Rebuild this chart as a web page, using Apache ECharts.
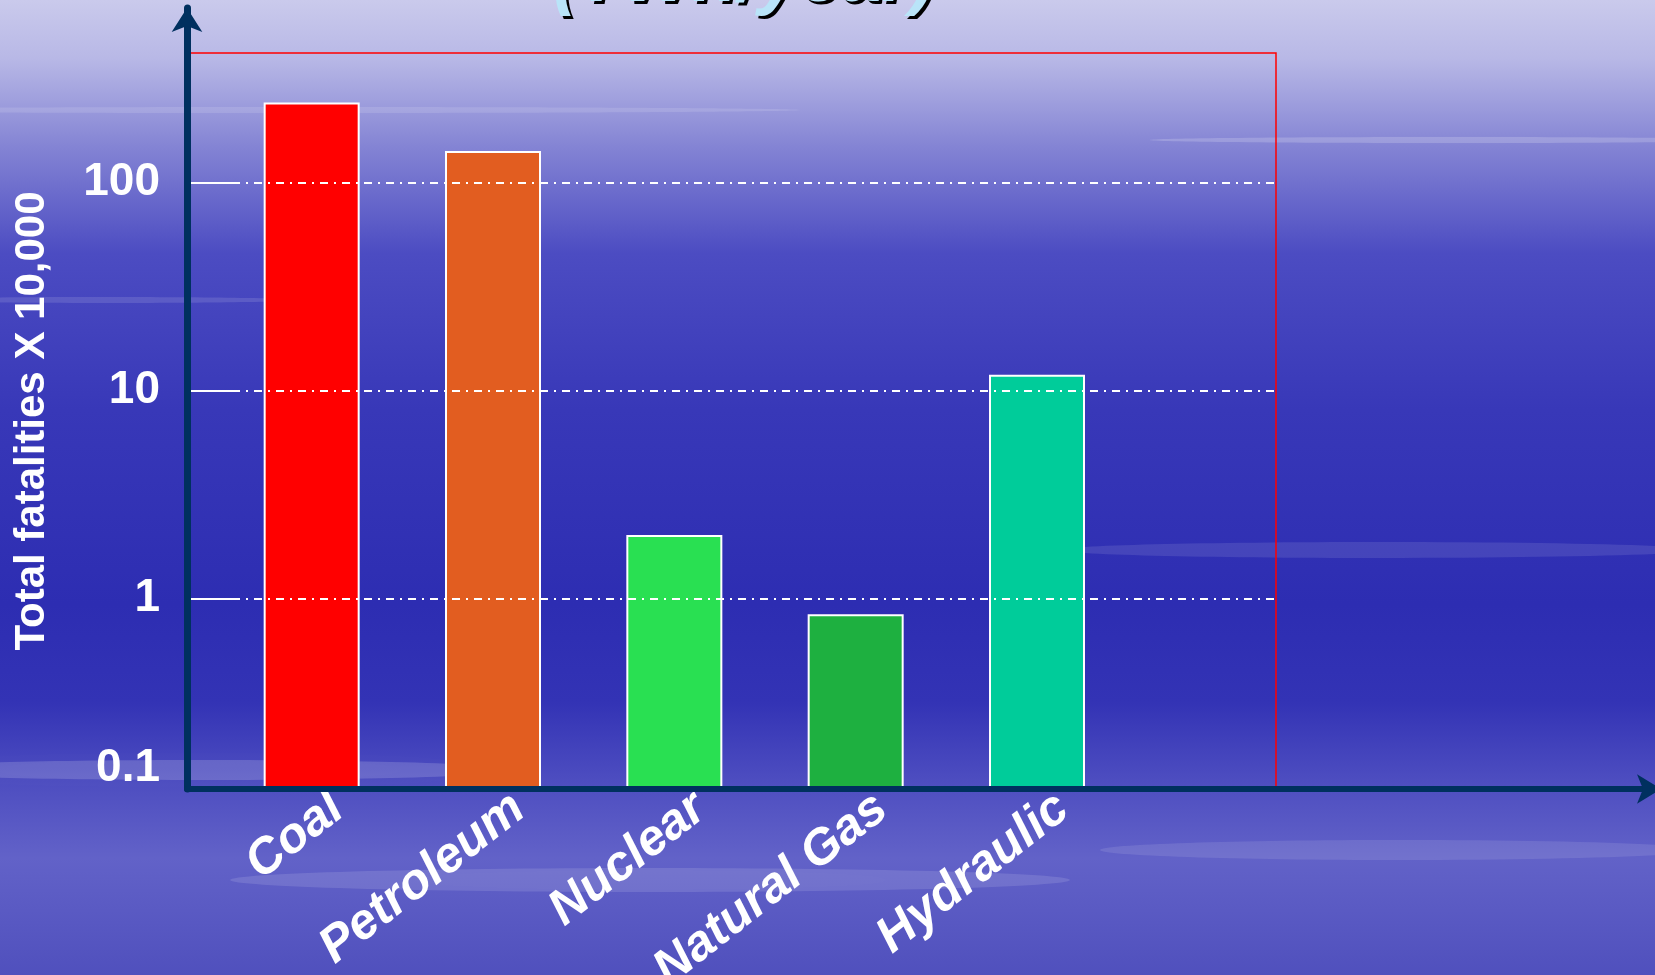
<!DOCTYPE html>
<html>
<head>
<meta charset="utf-8">
<style>
  html, body { margin: 0; padding: 0; width: 1655px; height: 975px; overflow: hidden; }
  #chart { width: 1655px; height: 975px; }
</style>
<script src="https://cdn.jsdelivr.net/npm/echarts@6/dist/echarts.min.js"></script>
</head>
<body>
<div id="chart"></div>
<script>
// ---- data ----
const categories = ['Coal', 'Petroleum', 'Nuclear', 'Natural Gas', 'Hydraulic'];
const fatalities = [243, 142, 2.02, 0.84, 11.9];
const yTickValues = [1, 10, 100];
const yMinLabel = '0.1';
const yAxisName = 'Total fatalities X 10,000';
const titleText = '(TWh/year)';

// ---- styles ----
const barColors = ['#ff0000', '#e25d20', '#29e052', '#1eb040', '#00cc9a'];
const FONT = 'Liberation Sans, Arial, sans-serif';
const AXIS_NAVY = '#00305f';
const LOG_MIN = 0.1214, LOG_MAX = 420;

const slots = categories.concat(['']);

function streak(x, y, w, h, a, blur) {
  return {
    type: 'ellipse', silent: true, z: -10,
    shape: { cx: x, cy: y, rx: w, ry: h },
    style: { fill: 'rgba(255,255,255,' + a + ')', shadowBlur: blur, shadowColor: 'rgba(255,255,255,' + a + ')' }
  };
}

const titleFont = 'italic bold 74px ' + FONT;
const noBounds = { containLabel: false, outerBoundsMode: 'none' };

const chart = echarts.init(document.getElementById('chart'));
chart.setOption({
  animation: false,
  backgroundColor: {
    type: 'linear', x: 0, y: 0, x2: 0, y2: 1,
    colorStops: [
      { offset: 0.00, color: '#cacaec' },
      { offset: 0.06, color: '#b8b8e6' },
      { offset: 0.15, color: '#8484d4' },
      { offset: 0.26, color: '#4c4cc2' },
      { offset: 0.42, color: '#3838b8' },
      { offset: 0.62, color: '#2d2db2' },
      { offset: 0.72, color: '#3333b5' },
      { offset: 0.80, color: '#4d4dc0' },
      { offset: 0.88, color: '#6262c8' },
      { offset: 1.00, color: '#5050bd' }
    ]
  },
  graphic: [
    streak(300, 110, 500, 3, 0.12, 12),
    streak(1450, 140, 300, 3, 0.18, 10),
    streak(100, 300, 200, 3, 0.12, 10),
    streak(1380, 550, 320, 8, 0.10, 24),
    streak(200, 770, 320, 10, 0.16, 28),
    streak(650, 880, 420, 12, 0.12, 30),
    streak(1400, 850, 300, 10, 0.10, 28),
    {
      type: 'text', silent: true, z: 10,
      style: {
        text: titleText, x: 747, y: -16, font: titleFont,
        fill: '#000000', align: 'center', verticalAlign: 'middle'
      }
    },
    {
      type: 'text', silent: true, z: 11,
      style: {
        text: titleText, x: 744, y: -19, font: titleFont,
        fill: '#b9e4f8', align: 'center', verticalAlign: 'middle'
      }
    }
  ],
  grid: [
    Object.assign({ left: 188, right: 379, top: 53, bottom: 186,
      show: true, borderColor: '#ff0000', borderWidth: 1.5, backgroundColor: 'transparent' }, noBounds),
    Object.assign({ left: 187, right: -6, top: 8, bottom: 186 }, noBounds),
    Object.assign({ left: 221, right: 346, top: 53, bottom: 186 }, noBounds),
    Object.assign({ left: 247, right: 320, top: 53, bottom: 186 }, noBounds)
  ],
  xAxis: [
    { gridIndex: 0, type: 'value', min: 0, max: 1, show: false },
    {
      gridIndex: 1, type: 'value', min: 0, max: 1, z: 8,
      axisLine: { show: true, lineStyle: { color: AXIS_NAVY, width: 6 }, symbol: ['none', 'arrow'], symbolSize: [22, 24] },
      axisTick: { show: false }, axisLabel: { show: false }, splitLine: { show: false }
    },
    {
      gridIndex: 2, type: 'category', data: slots,
      axisLine: { show: false }, axisTick: { show: false }, splitLine: { show: false }, axisLabel: { show: false }
    },
    {
      gridIndex: 3, type: 'category', data: slots,
      axisLine: { show: false }, axisTick: { show: false }, splitLine: { show: false },
      axisLabel: {
        interval: 0, rotate: 38, margin: 14,
        color: '#ffffff', fontSize: 50, fontWeight: 'bold', fontStyle: 'italic', fontFamily: FONT
      }
    }
  ],
  yAxis: [
    {
      gridIndex: 0, type: 'log', logBase: 10, min: LOG_MIN, max: LOG_MAX, z: 5,
      name: yAxisName, nameLocation: 'middle', nameRotate: 90, nameGap: 135,
      nameTextStyle: { color: '#ffffff', fontSize: 42, fontWeight: 'bold', fontFamily: FONT },
      axisLine: { show: false },
      axisTick: { show: true, inside: true, length: 50, customValues: yTickValues, lineStyle: { color: '#ffffff', width: 2 } },
      axisLabel: {
        margin: 28, color: '#ffffff', fontSize: 46, fontWeight: 'bold', fontFamily: FONT,
        showMaxLabel: false,
        formatter: function (v) {
          if (v < 0.5) return '{low|' + yMinLabel + '}';
          if (v > LOG_MAX * 0.6) return '';
          return String(Math.round(v));
        },
        rich: { low: { color: '#ffffff', fontSize: 46, fontWeight: 'bold', fontFamily: FONT, padding: [0, 0, 42, 0] } }
      },
      splitLine: {
        show: true,
        lineStyle: { color: '#ffffff', width: 2, type: [8, 6, 2, 6] }
      }
    },
    {
      gridIndex: 1, type: 'value', min: 0, max: 1, z: 8,
      axisLine: { show: true, lineStyle: { color: AXIS_NAVY, width: 7 }, symbol: ['none', 'arrow'], symbolSize: [23, 24] },
      axisTick: { show: false }, axisLabel: { show: false }, splitLine: { show: false }
    },
    { gridIndex: 2, type: 'log', logBase: 10, min: LOG_MIN, max: LOG_MAX, startValue: LOG_MIN, show: false },
    { gridIndex: 3, type: 'value', min: 0, max: 1, show: false }
  ],
  series: [
    {
      type: 'bar', xAxisIndex: 2, yAxisIndex: 2, barWidth: 96, z: 2,
      data: fatalities.map(function (v, i) {
        return { value: v, itemStyle: { color: barColors[i], borderColor: '#ffffff', borderWidth: 2 } };
      })
    }
  ]
});
</script>
</body>
</html>
